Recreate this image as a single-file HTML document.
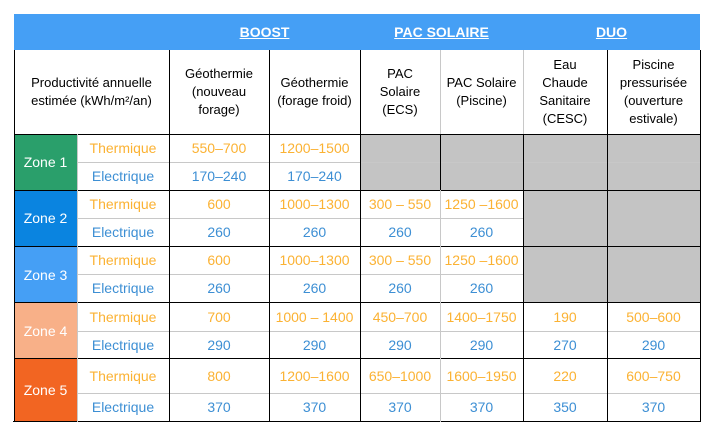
<!DOCTYPE html><html><head><style>
body{margin:0;width:717px;height:433px;background:#fff;font-family:"Liberation Sans",sans-serif;position:relative;overflow:hidden}
div{position:absolute;box-sizing:border-box}
.c{display:flex;align-items:center;justify-content:center;text-align:center;font-size:13px;line-height:18px}
.t,.e{font-size:14px}
.t{color:#fbb233}.e{color:#3d8fd4}
.z{font-size:14px;color:#fff}
.h{color:#fff;font-weight:bold;font-size:14px;text-decoration:underline}
.g{background:#c4c4c4}
.vl{width:1px;background:#000}.hl{height:1px;background:#000}
.lg{background:#c8c8c8}
</style></head><body>
<div style="left:14px;top:14px;width:686px;height:36px;background:#459ff5"></div>
<div class="c h" style="left:169px;top:14px;width:191px;height:36px">BOOST</div>
<div class="c h" style="left:360px;top:14px;width:163px;height:36px">PAC SOLAIRE</div>
<div class="c h" style="left:523px;top:14px;width:177px;height:36px">DUO</div>
<div class="c" style="left:14px;top:50px;width:155px;height:84px">Productivité annuelle<br>estimée (kWh/m²/an)</div>
<div class="c" style="left:169px;top:50px;width:100px;height:84px">Géothermie<br>(nouveau<br>forage)</div>
<div class="c" style="left:269px;top:50px;width:91px;height:84px">Géothermie<br>(forage froid)</div>
<div class="c" style="left:360px;top:50px;width:80px;height:84px">PAC<br>Solaire<br>(ECS)</div>
<div class="c" style="left:440px;top:50px;width:83px;height:84px">PAC Solaire<br>(Piscine)</div>
<div class="c" style="left:523px;top:50px;width:84px;height:84px">Eau<br>Chaude<br>Sanitaire<br>(CESC)</div>
<div class="c" style="left:607px;top:50px;width:93px;height:84px">Piscine<br>pressurisée<br>(ouverture<br>estivale)</div>
<div class="g" style="left:360px;top:134px;width:163px;height:56px"></div>
<div class="g" style="left:523px;top:134px;width:177px;height:168px"></div>
<div class="c z" style="left:14px;top:134px;width:63px;height:56px;background:#2a9f6b">Zone 1</div>
<div class="c z" style="left:14px;top:190px;width:63px;height:56px;background:#0a84e0">Zone 2</div>
<div class="c z" style="left:14px;top:246px;width:63px;height:57px;background:#459ff5">Zone 3</div>
<div class="c z" style="left:14px;top:303px;width:63px;height:55px;background:#f8b088">Zone 4</div>
<div class="c z" style="left:14px;top:358px;width:63px;height:63px;background:#f26522">Zone 5</div>
<div class="lg" style="left:77px;top:162px;width:623px;height:1px"></div>
<div class="lg" style="left:77px;top:218px;width:446px;height:1px"></div>
<div class="lg" style="left:77px;top:274px;width:446px;height:1px"></div>
<div class="lg" style="left:77px;top:331px;width:623px;height:1px"></div>
<div class="lg" style="left:77px;top:393px;width:623px;height:1px"></div>
<div class="hl" style="left:14px;top:134px;width:686px"></div>
<div class="hl" style="left:14px;top:190px;width:686px"></div>
<div class="hl" style="left:14px;top:246px;width:686px"></div>
<div class="hl" style="left:14px;top:302px;width:686px"></div>
<div class="hl" style="left:14px;top:358px;width:686px"></div>
<div class="hl" style="left:13px;top:421px;width:688px"></div>
<div class="vl" style="left:14px;top:50px;height:372px"></div>
<div class="vl" style="left:169px;top:50px;height:372px"></div>
<div class="vl" style="left:269px;top:50px;height:372px"></div>
<div class="vl" style="left:360px;top:50px;height:372px"></div>
<div class="lg" style="left:440px;top:50px;width:1px;height:84px"></div>
<div class="vl" style="left:440px;top:134px;height:56px"></div>
<div class="lg" style="left:440px;top:190px;width:1px;height:232px"></div>
<div class="lg" style="left:523px;top:50px;width:1px;height:84px"></div>
<div class="vl" style="left:523px;top:134px;height:288px"></div>
<div class="vl" style="left:607px;top:50px;height:372px"></div>
<div class="vl" style="left:700px;top:50px;height:372px"></div>
<div class="lg" style="left:77px;top:134px;width:1px;height:288px"></div>
<div id="r"></div>
<script>
var rows=[[134,28,'t','Thermique',['550-700','1200-1500']],[162,28,'e','Electrique',['170-240','170-240']],
[190,28,'t','Thermique',['600','1000-1300','300 - 550','1250 -1600']],[218,28,'e','Electrique',['260','260','260','260']],
[246,28,'t','Thermique',['600','1000-1300','300 - 550','1250 -1600']],[274,28,'e','Electrique',['260','260','260','260']],
[302,29,'t','Thermique',['700','1000 - 1400','450-700','1400-1750','190','500-600']],[331,27,'e','Electrique',['290','290','290','290','270','290']],
[358,35,'t','Thermique',['800','1200-1600','650-1000','1600-1950','220','600-750']],[393,28,'e','Electrique',['370','370','370','370','350','370']]];
var xs=[[169,100],[269,91],[360,80],[440,83],[523,84],[607,93]];var h='';
rows.forEach(function(r){h+='<div class="c '+r[2]+'" style="left:77px;top:'+r[0]+'px;width:92px;height:'+r[1]+'px">'+r[3]+'</div>';
r[4].forEach(function(v,i){h+='<div class="c '+r[2]+'" style="left:'+xs[i][0]+'px;top:'+r[0]+'px;width:'+xs[i][1]+'px;height:'+r[1]+'px">'+v.replace(/-/g,'–')+'</div>';});});
document.getElementById('r').outerHTML=h;
</script>
</body></html>
